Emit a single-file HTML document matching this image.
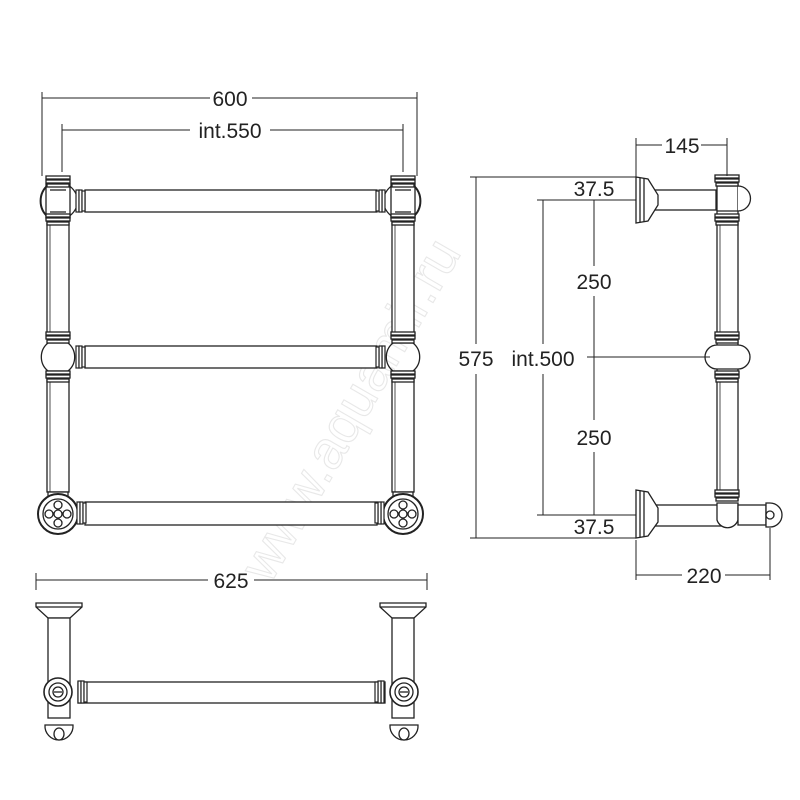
<!DOCTYPE html>
<html><head><meta charset="utf-8"><style>
html,body{margin:0;padding:0;background:#fff}
svg{display:block}
text{font-family:"Liberation Sans",sans-serif;fill:#222}
</style></head><body>
<svg width="800" height="800" viewBox="0 0 800 800" xmlns="http://www.w3.org/2000/svg">
<defs>
<g id="caps" fill="#fff" stroke="#222" stroke-width="1.3">
<rect x="-12" y="-4" width="24" height="3"/><rect x="-12" y="0" width="24" height="3"/><rect x="-11" y="4" width="22" height="3"/>
</g>
<g id="collarL" fill="#fff" stroke="#222" stroke-width="1.2">
<rect x="0" y="-11" width="3" height="22"/><rect x="3" y="-11" width="3" height="22"/><rect x="6" y="-10" width="3" height="20"/>
</g>
</defs>
<text x="0" y="0" transform="translate(270,585) rotate(-60)" font-size="54" stroke="#e8e8e8" stroke-width="1.1" style="fill:none">www.aquamir.ru</text>

<g fill="none" stroke="#222" stroke-width="1.3">
<!-- FRONT VIEW -->
<rect x="47" y="218" width="22" height="118" fill="#fff"/>
<rect x="47" y="378" width="22" height="114" fill="#fff"/>
<rect x="392" y="218" width="22" height="118" fill="#fff"/>
<rect x="392" y="378" width="22" height="114" fill="#fff"/>
<line x1="50" y1="218" x2="50" y2="336" stroke-width="0.8"/><line x1="395" y1="218" x2="395" y2="336" stroke-width="0.8"/>
<line x1="50" y1="378" x2="50" y2="492" stroke-width="0.8"/><line x1="395" y1="378" x2="395" y2="492" stroke-width="0.8"/>
<rect x="85" y="190" width="292" height="22" fill="#fff"/>
<rect x="85" y="346" width="292" height="22" fill="#fff"/>
<rect x="85" y="502" width="292" height="23" fill="#fff"/>
<g>
<path d="M48 185 A21 21 0 0 0 48 217" stroke-width="2"/>
<path d="M68 185 A21 21 0 0 1 78 201 A21 21 0 0 1 68 217"/>
<rect x="46" y="184" width="24" height="34"/>
<line x1="50" y1="190" x2="66" y2="190"/><line x1="50" y1="212" x2="66" y2="212"/>
<use href="#caps" x="58" y="180"/><use href="#caps" x="58" y="218"/>
<use href="#collarL" x="76" y="201"/>
</g>
<g>
<path d="M413 185 A21 21 0 0 1 413 217" stroke-width="2"/>
<path d="M393 185 A21 21 0 0 0 383 201 A21 21 0 0 0 393 217"/>
<rect x="391" y="184" width="24" height="34"/>
<line x1="395" y1="190" x2="411" y2="190"/><line x1="395" y1="212" x2="411" y2="212"/>
<use href="#caps" x="403" y="180"/><use href="#caps" x="403" y="218"/>
<use href="#collarL" x="385" y="201" transform="translate(770,0) scale(-1,1)"/>
</g>
<g>
<path d="M48 343 A18 18 0 0 0 48 371"/><path d="M68 343 A18 18 0 0 1 68 371"/>
<line x1="48" y1="343" x2="68" y2="343"/><line x1="48" y1="371" x2="68" y2="371"/>
<use href="#caps" x="58" y="336"/><use href="#caps" x="58" y="375"/>
<use href="#collarL" x="76" y="357"/>
</g>
<g>
<path d="M393 343 A18 18 0 0 0 393 371"/><path d="M413 343 A18 18 0 0 1 413 371"/>
<line x1="393" y1="343" x2="413" y2="343"/><line x1="393" y1="371" x2="413" y2="371"/>
<use href="#caps" x="403" y="336"/><use href="#caps" x="403" y="375"/>
<use href="#collarL" x="385" y="357" transform="translate(770,0) scale(-1,1)"/>
</g>
<g fill="#fff">
<rect x="48" y="492" width="20" height="5"/>
<circle cx="58" cy="514" r="20" stroke-width="2"/><circle cx="58" cy="514" r="15"/>
<circle cx="58" cy="514" r="4"/><circle cx="58" cy="505" r="4"/><circle cx="58" cy="523" r="4"/><circle cx="49" cy="514" r="4"/><circle cx="67" cy="514" r="4"/>
<use href="#collarL" x="77" y="513"/>
<rect x="393" y="492" width="20" height="5"/>
<circle cx="403" cy="514" r="20" stroke-width="2"/><circle cx="403" cy="514" r="15"/>
<circle cx="403" cy="514" r="4"/><circle cx="403" cy="505" r="4"/><circle cx="403" cy="523" r="4"/><circle cx="394" cy="514" r="4"/><circle cx="412" cy="514" r="4"/>
<use href="#collarL" x="384" y="513" transform="translate(768,0) scale(-1,1)"/>
</g>
<g stroke-width="1">
<line x1="42" y1="98" x2="210" y2="98"/><line x1="252" y1="98" x2="417" y2="98"/>
<line x1="42" y1="92" x2="42" y2="176"/><line x1="417" y1="92" x2="417" y2="176"/>
<line x1="62" y1="130" x2="190" y2="130"/><line x1="270" y1="130" x2="403" y2="130"/>
<line x1="62" y1="124" x2="62" y2="172"/><line x1="403" y1="124" x2="403" y2="172"/>
</g>

<!-- SIDE VIEW -->
<g fill="#fff">
<rect x="717" y="180" width="21" height="320"/>
<line x1="720" y1="224" x2="720" y2="334" stroke-width="0.8"/><line x1="720" y1="382" x2="720" y2="490" stroke-width="0.8"/>
<rect x="648" y="190" width="68" height="20"/>
<path d="M636 177 L648 179 L658 195 L658 205 L648 221 L636 223 Z"/>
<line x1="640" y1="178" x2="640" y2="222"/><line x1="644" y1="178" x2="644" y2="222"/>
<line x1="717" y1="186" x2="738" y2="186"/><line x1="717" y1="211" x2="738" y2="211"/>
<path d="M738 186 A12.5 12.5 0 0 1 738 211"/>
<use href="#caps" x="727" y="179"/><use href="#caps" x="727" y="218"/>
<path d="M717 345 L738 345 A12 12 0 0 1 738 369 L717 369 A12 12 0 0 1 717 345 Z"/>
<use href="#caps" x="727" y="336"/><use href="#caps" x="727" y="375"/>
<use href="#caps" x="727" y="494"/>
<rect x="648" y="505" width="80" height="21"/>
<path d="M717 503 L738 503 L738 520 A11 11 0 0 1 717 520 Z"/>
<rect x="738" y="505" width="28" height="20"/>
<path d="M636 490 L648 492 L658 508 L658 522 L648 536 L636 538 Z"/>
<line x1="640" y1="491" x2="640" y2="537"/><line x1="644" y1="491" x2="644" y2="537"/>
<path d="M766 503 L770 503 A12 12 0 0 1 770 527 L766 527 Z"/>
<ellipse cx="770" cy="515" rx="4" ry="4"/>
</g>
<g stroke-width="1">
<line x1="636" y1="138" x2="636" y2="177"/><line x1="727" y1="138" x2="727" y2="176"/>
<line x1="636" y1="145" x2="662" y2="145"/><line x1="701" y1="145" x2="727" y2="145"/>
<line x1="470" y1="177" x2="636" y2="177"/><line x1="470" y1="538" x2="636" y2="538"/>
<line x1="476" y1="177" x2="476" y2="344"/><line x1="476" y1="374" x2="476" y2="538"/>
<line x1="537" y1="200" x2="636" y2="200"/><line x1="537" y1="515" x2="636" y2="515"/>
<line x1="543" y1="200" x2="543" y2="344"/><line x1="543" y1="374" x2="543" y2="515"/>
<line x1="594" y1="200" x2="594" y2="266"/><line x1="594" y1="296" x2="594" y2="420"/><line x1="594" y1="452" x2="594" y2="515"/>
<line x1="587" y1="357" x2="710" y2="357"/>
<line x1="636" y1="540" x2="636" y2="580"/><line x1="770" y1="528" x2="770" y2="580"/>
<line x1="636" y1="575" x2="682" y2="575"/><line x1="725" y1="575" x2="770" y2="575"/>
</g>

<!-- BOTTOM VIEW -->
<g fill="#fff">
<path d="M36 603 L82 603 L82 607 L70 618 L48 618 L36 607 Z"/><line x1="36" y1="607" x2="82" y2="607"/>
<path d="M380 603 L426 603 L426 607 L414 618 L392 618 L380 607 Z"/><line x1="380" y1="607" x2="426" y2="607"/>
<rect x="48" y="618" width="22" height="100"/><rect x="392" y="618" width="22" height="100"/>
<rect x="78" y="682" width="307" height="21"/>
<use href="#collarL" x="78" y="692"/><use href="#collarL" x="384" y="692" transform="translate(768,0) scale(-1,1)"/>
<circle cx="58" cy="692" r="14" stroke-width="1.6"/><circle cx="58" cy="692" r="9"/><circle cx="58" cy="692" r="5"/><line x1="54" y1="692" x2="62" y2="692"/>
<circle cx="404" cy="692" r="14" stroke-width="1.6"/><circle cx="404" cy="692" r="9"/><circle cx="404" cy="692" r="5"/><line x1="400" y1="692" x2="408" y2="692"/>
<path d="M45 725 L73 725 A14 14 0 0 1 59 740 A14 14 0 0 1 45 725 Z"/><ellipse cx="59" cy="734" rx="5" ry="6"/>
<path d="M390 725 L418 725 A14 14 0 0 1 404 740 A14 14 0 0 1 390 725 Z"/><ellipse cx="404" cy="734" rx="5" ry="6"/>
</g>
<g stroke-width="1">
<line x1="36" y1="573" x2="36" y2="590"/><line x1="427" y1="573" x2="427" y2="590"/>
<line x1="36" y1="580" x2="208" y2="580"/><line x1="254" y1="580" x2="427" y2="580"/>
</g>
</g>

<g font-size="21">
<text x="230" y="106" text-anchor="middle">600</text>
<text x="230" y="138" text-anchor="middle">int.550</text>
<text x="682" y="153" text-anchor="middle">145</text>
<text x="594" y="196" text-anchor="middle">37.5</text>
<text x="594" y="289" text-anchor="middle">250</text>
<text x="476" y="366" text-anchor="middle">575</text>
<text x="543" y="366" text-anchor="middle">int.500</text>
<text x="594" y="445" text-anchor="middle">250</text>
<text x="594" y="534" text-anchor="middle">37.5</text>
<text x="704" y="583" text-anchor="middle">220</text>
<text x="231" y="588" text-anchor="middle">625</text>
</g>
</svg>
</body></html>
